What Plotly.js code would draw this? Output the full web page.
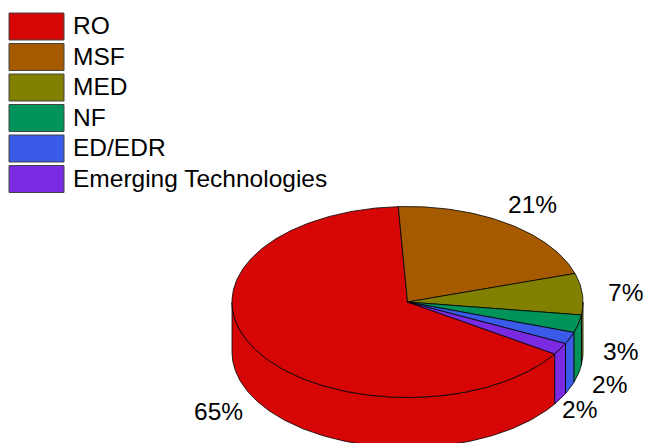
<!DOCTYPE html>
<html>
<head>
<meta charset="utf-8">
<script src="https://cdn.plot.ly/plotly-3.0.1.min.js"></script>
<style>html,body{margin:0;padding:0;background:#fff;}#chart{width:646px;height:443px;}</style>
</head>
<body>
<div id="chart"></div>
<script>
// ---- data ----
const categories = ['RO', 'MSF', 'MED', 'NF', 'ED/EDR', 'Emerging Technologies'];
const shares = [65, 21, 7, 3, 2, 2];
const shareLabels = ['65%', '21%', '7%', '3%', '2%', '2%'];

// ---- style ----
const colors = ['#d60606', '#a55a00', '#818000', '#00935a', '#3a5ae8', '#7a2ae0'];
const W = 646, H = 443;
const cx = 407.5, cy = 302, rx = 175.5, ry = 95.5, depth = 50;
const startDeg = 123; // clockwise from 12 o'clock, where first slice begins
const FONT = 'Liberation Sans, Arial, sans-serif';

const rad = d => d * Math.PI / 180;
function pt(deg, dy) {
  return [cx + rx * Math.sin(rad(deg)), cy - ry * Math.cos(rad(deg)) + (dy || 0)];
}

const total = shares.reduce((a, b) => a + b, 0);
const slices = [];
let acc = startDeg;
shares.forEach((v, i) => {
  const span = v / total * 360;
  slices.push({i, a: acc, b: acc + span});
  acc += span;
});

const sideTraces = [], topTraces = [];
slices.forEach(s => {
  [-360, 0, 360].forEach(off => {
    const lo = Math.max(s.a, 90 + off), hi = Math.min(s.b, 270 + off);
    if (hi > lo) {
      const xs = [], ys = [];
      const n = Math.max(2, Math.ceil(hi - lo));
      for (let k = 0; k <= n; k++) { const p = pt(lo + (hi - lo) * k / n); xs.push(p[0]); ys.push(p[1]); }
      for (let k = n; k >= 0; k--) { const p = pt(lo + (hi - lo) * k / n, depth); xs.push(p[0]); ys.push(p[1]); }
      xs.push(xs[0]); ys.push(ys[0]);
      sideTraces.push({type: 'scatter', mode: 'lines', x: xs, y: ys, fill: 'toself',
        fillcolor: colors[s.i], line: {color: '#000', width: 0.8}, hoverinfo: 'skip', showlegend: false});
    }
  });
  const xs = [cx], ys = [cy];
  const n = Math.max(2, Math.ceil(s.b - s.a));
  for (let k = 0; k <= n; k++) { const p = pt(s.a + (s.b - s.a) * k / n); xs.push(p[0]); ys.push(p[1]); }
  xs.push(cx); ys.push(cy);
  topTraces.push({type: 'scatter', mode: 'lines', x: xs, y: ys, fill: 'toself',
    fillcolor: colors[s.i], line: {color: '#000', width: 0.8}, hoverinfo: 'skip',
    name: categories[s.i], showlegend: false});
});

const annotations = [], shapes = [];
// percentage labels, with simple collision nudging
const placed = [];
slices.forEach(s => {
  const mid = (s.a + s.b) / 2;
  const c = Math.cos(rad(mid));
  const k = 1.245;
  let x = cx + rx * k * Math.sin(rad(mid));
  const y = cy - ry * k * c + depth * Math.min(1, Math.max(0, -2 * c));
  placed.forEach(p => {
    if (Math.abs(p.y - y) < 30 && Math.abs(p.x - x) < 30) x = p.x - 30;
  });
  placed.push({x, y});
  annotations.push({x, y, xref: 'x', yref: 'y', text: shareLabels[s.i], showarrow: false,
    xanchor: 'center', yanchor: 'middle', font: {family: FONT, size: 24.5, color: '#000'}});
});
// legend
categories.forEach((name, i) => {
  const top = 13 + i * 30.5;
  shapes.push({type: 'rect', xref: 'x', yref: 'y', x0: 9, x1: 64, y0: top, y1: top + 27,
    fillcolor: colors[i], line: {color: '#444', width: 1}, layer: 'above'});
  annotations.push({x: 71, y: top + 12.5, xref: 'x', yref: 'y', text: name, showarrow: false,
    xanchor: 'left', yanchor: 'middle', font: {family: FONT, size: 24.5, color: '#000'}});
});

const layout = {
  width: W, height: H, margin: {l: 0, r: 0, t: 0, b: 0, pad: 0},
  paper_bgcolor: '#fff', plot_bgcolor: '#fff', showlegend: false,
  xaxis: {range: [0, W], visible: false, fixedrange: true},
  yaxis: {range: [H, 0], visible: false, fixedrange: true},
  shapes, annotations
};
Plotly.newPlot('chart', sideTraces.concat(topTraces), layout, {displayModeBar: false, staticPlot: true});
</script>
</body>
</html>
